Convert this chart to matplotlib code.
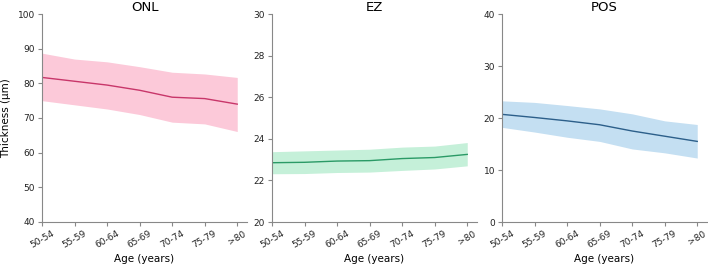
import matplotlib
matplotlib.use("Agg")
import matplotlib.pyplot as plt
import numpy as np

ages = ["50-54", "55-59", "60-64", "65-69", "70-74", "75-79", ">80"]

onl_mean = [81.7, 80.6, 79.5, 78.0, 76.0, 75.6, 74.0]
onl_upper = [88.7, 87.0, 86.2, 84.8, 83.2, 82.7, 81.7]
onl_lower = [75.0, 73.8, 72.6, 71.0, 68.8, 68.3, 66.1]

ez_mean = [22.85, 22.87, 22.93, 22.95, 23.05, 23.1, 23.25]
ez_upper = [23.38, 23.42, 23.46, 23.5, 23.6, 23.65, 23.82]
ez_lower = [22.32, 22.33, 22.38, 22.4, 22.48, 22.55, 22.7]

pos_mean = [20.7, 20.1, 19.45, 18.7, 17.5, 16.5, 15.5]
pos_upper = [23.3, 23.0, 22.4, 21.75, 20.8, 19.45, 18.75]
pos_lower = [18.2, 17.3, 16.3, 15.5, 14.05, 13.3, 12.3]

panels = [
    ("ONL", onl_mean, onl_lower, onl_upper, (40, 100), np.arange(40, 101, 10), "#c8366a", "#fcc9d9"),
    ("EZ", ez_mean, ez_lower, ez_upper, (20, 30), np.arange(20, 31, 2), "#2a9a66", "#c5f0d9"),
    ("POS", pos_mean, pos_lower, pos_upper, (0, 40), np.arange(0, 41, 10), "#2c5f8a", "#c4dff2"),
]

fig = plt.figure(figsize=(7.08, 2.70), dpi=100)
lefts = [42, 272, 502]
x = np.arange(len(ages))

for i, (name, m, lo, hi, ylim, yt, lc, fc) in enumerate(panels):
    ax = fig.add_axes([lefts[i] / 708, 1 - 222 / 270, 205 / 708, 208 / 270])
    ax.fill_between(x, lo, hi, color=fc, lw=0)
    ax.plot(x, m, color=lc, lw=1)
    ax.set_xlim(0, 6.3)
    ax.set_ylim(*ylim)
    ax.set_yticks(yt)
    ax.set_xticks(x)
    ax.set_xticklabels(ages, rotation=30, ha="center")
    ax.tick_params(labelsize=6.5, length=3, pad=2, color="#888888", labelcolor="#222222")
    for s in ["top", "right"]:
        ax.spines[s].set_visible(False)
    for s in ["left", "bottom"]:
        ax.spines[s].set_color("#888888")
        ax.spines[s].set_linewidth(0.8)
    ax.set_title(name, fontsize=9.5, pad=1)
    ax.set_xlabel("Age (years)", fontsize=7.5, labelpad=3)
    if i == 0:
        ax.set_ylabel("Thickness (µm)", fontsize=7.5, labelpad=5)

fig.savefig("out.png", dpi=100)
